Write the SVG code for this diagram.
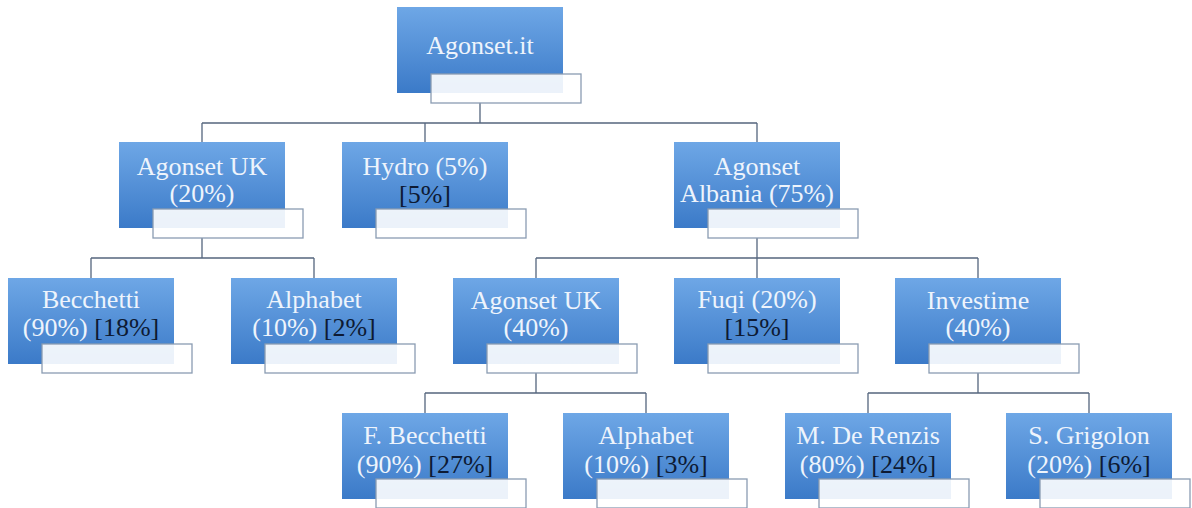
<svg xmlns="http://www.w3.org/2000/svg" width="1192" height="508" viewBox="0 0 1192 508">
<defs>
<linearGradient id="bg" x1="0" y1="0" x2="0" y2="1">
<stop offset="0" stop-color="#6ea7e6"/>
<stop offset="1" stop-color="#3b7ac8"/>
</linearGradient>
</defs>
<rect width="1192" height="508" fill="#ffffff"/>
<g id="connectors" fill="none" stroke="#55667e" stroke-width="1.3">
<path d="M480,102V123M202,123H757M202,123V142M425,123V142M757,123V142"/>
<path d="M202,238V258M91,258H314M91,258V278M314,258V278"/>
<path d="M757,238V258M536,258H978M536,258V278M757,258V278M978,258V278"/>
<path d="M536,373V393M425,393H646M425,393V413M646,393V413"/>
<path d="M978,373V393M868,393H1089M868,393V413M1089,393V413"/>
</g>
<g id="n-agonset-it">
<rect x="397" y="7" width="166" height="86" fill="url(#bg)"/>
<text x="480" y="54" style="font-family:'Times New Roman',serif;font-size:26px;fill:#eef4fc;text-anchor:middle">Agonset.it</text>
<rect x="431" y="74" width="150" height="29" fill="#fff" fill-opacity="0.9" stroke="#8a9cb2" stroke-width="1.3"/>
</g>
<g id="n-agonset-uk-20">
<rect x="119" y="142" width="166" height="86" fill="url(#bg)"/>
<text x="202" y="175" style="font-family:'Times New Roman',serif;font-size:26px;fill:#eef4fc;text-anchor:middle">Agonset UK</text>
<text x="202" y="202" style="font-family:'Times New Roman',serif;font-size:26px;fill:#eef4fc;text-anchor:middle">(20%)</text>
<rect x="153" y="209" width="150" height="29" fill="#fff" fill-opacity="0.9" stroke="#8a9cb2" stroke-width="1.3"/>
</g>
<g id="n-hydro">
<rect x="342" y="142" width="166" height="86" fill="url(#bg)"/>
<text x="425" y="175" style="font-family:'Times New Roman',serif;font-size:26px;fill:#eef4fc;text-anchor:middle">Hydro (5%)</text>
<text x="425" y="203" style="font-family:'Times New Roman',serif;font-size:26px;fill:#0d1a33;text-anchor:middle">[5%]</text>
<rect x="376" y="209" width="150" height="29" fill="#fff" fill-opacity="0.9" stroke="#8a9cb2" stroke-width="1.3"/>
</g>
<g id="n-agonset-albania">
<rect x="674" y="142" width="166" height="86" fill="url(#bg)"/>
<text x="757" y="175" style="font-family:'Times New Roman',serif;font-size:26px;fill:#eef4fc;text-anchor:middle">Agonset</text>
<text x="757" y="202" style="font-family:'Times New Roman',serif;font-size:26px;fill:#eef4fc;text-anchor:middle">Albania (75%)</text>
<rect x="708" y="209" width="150" height="29" fill="#fff" fill-opacity="0.9" stroke="#8a9cb2" stroke-width="1.3"/>
</g>
<g id="n-becchetti">
<rect x="8" y="278" width="166" height="86" fill="url(#bg)"/>
<text x="91" y="308" style="font-family:'Times New Roman',serif;font-size:26px;fill:#eef4fc;text-anchor:middle">Becchetti</text>
<text x="91" y="336" style="font-family:'Times New Roman',serif;font-size:26px;fill:#eef4fc;text-anchor:middle">(90%) <tspan fill="#0d1a33">[18%]</tspan></text>
<rect x="42" y="344" width="150" height="29" fill="#fff" fill-opacity="0.9" stroke="#8a9cb2" stroke-width="1.3"/>
</g>
<g id="n-alphabet-1">
<rect x="231" y="278" width="166" height="86" fill="url(#bg)"/>
<text x="314" y="308" style="font-family:'Times New Roman',serif;font-size:26px;fill:#eef4fc;text-anchor:middle">Alphabet</text>
<text x="314" y="336" style="font-family:'Times New Roman',serif;font-size:26px;fill:#eef4fc;text-anchor:middle">(10%) <tspan fill="#0d1a33">[2%]</tspan></text>
<rect x="265" y="344" width="150" height="29" fill="#fff" fill-opacity="0.9" stroke="#8a9cb2" stroke-width="1.3"/>
</g>
<g id="n-agonset-uk-40">
<rect x="453" y="278" width="166" height="86" fill="url(#bg)"/>
<text x="536" y="309" style="font-family:'Times New Roman',serif;font-size:26px;fill:#eef4fc;text-anchor:middle">Agonset UK</text>
<text x="536" y="336" style="font-family:'Times New Roman',serif;font-size:26px;fill:#eef4fc;text-anchor:middle">(40%)</text>
<rect x="487" y="344" width="150" height="29" fill="#fff" fill-opacity="0.9" stroke="#8a9cb2" stroke-width="1.3"/>
</g>
<g id="n-fuqi">
<rect x="674" y="278" width="166" height="86" fill="url(#bg)"/>
<text x="757" y="308" style="font-family:'Times New Roman',serif;font-size:26px;fill:#eef4fc;text-anchor:middle">Fuqi (20%)</text>
<text x="757" y="336" style="font-family:'Times New Roman',serif;font-size:26px;fill:#0d1a33;text-anchor:middle">[15%]</text>
<rect x="708" y="344" width="150" height="29" fill="#fff" fill-opacity="0.9" stroke="#8a9cb2" stroke-width="1.3"/>
</g>
<g id="n-investime">
<rect x="895" y="278" width="166" height="86" fill="url(#bg)"/>
<text x="978" y="309" style="font-family:'Times New Roman',serif;font-size:26px;fill:#eef4fc;text-anchor:middle">Investime</text>
<text x="978" y="336" style="font-family:'Times New Roman',serif;font-size:26px;fill:#eef4fc;text-anchor:middle">(40%)</text>
<rect x="929" y="344" width="150" height="29" fill="#fff" fill-opacity="0.9" stroke="#8a9cb2" stroke-width="1.3"/>
</g>
<g id="n-f-becchetti">
<rect x="342" y="413" width="166" height="86" fill="url(#bg)"/>
<text x="425" y="444" style="font-family:'Times New Roman',serif;font-size:26px;fill:#eef4fc;text-anchor:middle">F. Becchetti</text>
<text x="425" y="473" style="font-family:'Times New Roman',serif;font-size:26px;fill:#eef4fc;text-anchor:middle">(90%) <tspan fill="#0d1a33">[27%]</tspan></text>
<rect x="376" y="479" width="150" height="29" fill="#fff" fill-opacity="0.9" stroke="#8a9cb2" stroke-width="1.3"/>
</g>
<g id="n-alphabet-2">
<rect x="563" y="413" width="166" height="86" fill="url(#bg)"/>
<text x="646" y="444" style="font-family:'Times New Roman',serif;font-size:26px;fill:#eef4fc;text-anchor:middle">Alphabet</text>
<text x="646" y="473" style="font-family:'Times New Roman',serif;font-size:26px;fill:#eef4fc;text-anchor:middle">(10%) <tspan fill="#0d1a33">[3%]</tspan></text>
<rect x="597" y="479" width="150" height="29" fill="#fff" fill-opacity="0.9" stroke="#8a9cb2" stroke-width="1.3"/>
</g>
<g id="n-de-renzis">
<rect x="785" y="413" width="166" height="86" fill="url(#bg)"/>
<text x="868" y="444" style="font-family:'Times New Roman',serif;font-size:26px;fill:#eef4fc;text-anchor:middle">M. De Renzis</text>
<text x="868" y="473" style="font-family:'Times New Roman',serif;font-size:26px;fill:#eef4fc;text-anchor:middle">(80%) <tspan fill="#0d1a33">[24%]</tspan></text>
<rect x="819" y="479" width="150" height="29" fill="#fff" fill-opacity="0.9" stroke="#8a9cb2" stroke-width="1.3"/>
</g>
<g id="n-grigolon">
<rect x="1006" y="413" width="166" height="86" fill="url(#bg)"/>
<text x="1089" y="444" style="font-family:'Times New Roman',serif;font-size:26px;fill:#eef4fc;text-anchor:middle">S. Grigolon</text>
<text x="1089" y="473" style="font-family:'Times New Roman',serif;font-size:26px;fill:#eef4fc;text-anchor:middle">(20%) <tspan fill="#0d1a33">[6%]</tspan></text>
<rect x="1040" y="479" width="150" height="29" fill="#fff" fill-opacity="0.9" stroke="#8a9cb2" stroke-width="1.3"/>
</g>
</svg>
